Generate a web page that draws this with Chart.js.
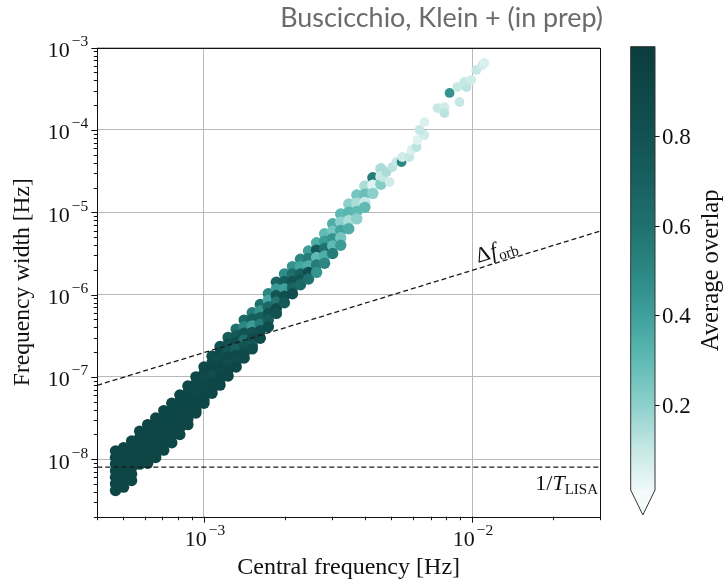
<!DOCTYPE html>
<html>
<head>
<meta charset="utf-8">
<script src="https://cdn.jsdelivr.net/npm/chart.js@4.4.1/dist/chart.umd.min.js"></script>
<style>
  html, body { margin: 0; padding: 0; background: #fff; }
  #wrap { width: 726px; height: 580px; }
</style>
</head>
<body>
<div id="wrap"><canvas id="myChart" width="726" height="580"></canvas></div>
<script>
// axis ranges [Hz]
var xMin = 4e-4, xMax = 3e-2;
var yMin = 2e-9, yMax = 1e-3;

// reference lines
var orbFreq = [4e-4, 3e-2];
var orbWidth = [7.9e-8, 5.9e-6];
var lisaFreq = [4e-4, 3e-2];
var lisaWidth = [8e-9, 8e-9];

// colorbar
var cbMin = 0.01, cbMax = 1.0;
var cbTicks = [0.2, 0.4, 0.6, 0.8];

// sources, grouped in narrow columns of central frequency (log10 Hz)
var logFreq = [-3.33, -3.30, -3.27, -3.24, -3.21, -3.18, -3.15, -3.12, -3.09, -3.06,
               -3.03, -3.00, -2.97, -2.94, -2.91, -2.88, -2.85, -2.82, -2.79, -2.76,
               -2.73, -2.70, -2.67, -2.64, -2.61, -2.58, -2.55, -2.52, -2.49, -2.46,
               -2.43, -2.40, -2.37, -2.34];
// log10 of frequency width [Hz] for each source in the column
var logWidth = [
  [-7.90, -7.98, -8.06, -8.14, -8.22, -8.30, -8.38],
  [-7.86, -7.94, -8.02, -8.10, -8.18, -8.26, -8.34],
  [-7.78, -7.86, -7.94, -8.02, -8.10, -8.18, -8.26],
  [-7.66, -7.74, -7.82, -7.90, -7.98, -8.06],
  [-7.58, -7.66, -7.74, -7.82, -7.90, -7.98, -8.05],
  [-7.50, -7.58, -7.66, -7.74, -7.82, -7.90, -7.98],
  [-7.41, -7.49, -7.57, -7.65, -7.73, -7.81, -7.89],
  [-7.32, -7.40, -7.48, -7.56, -7.64, -7.72, -7.80],
  [-7.22, -7.30, -7.38, -7.46, -7.54, -7.62, -7.70],
  [-7.11, -7.19, -7.27, -7.35, -7.43, -7.51, -7.58],
  [-7.00, -7.08, -7.16, -7.24, -7.32, -7.40, -7.44],
  [-6.88, -6.96, -7.04, -7.12, -7.20, -7.28, -7.32],
  [-6.75, -6.83, -6.91, -6.99, -7.07, -7.15, -7.20],
  [-6.63, -6.71, -6.79, -6.87, -6.95, -7.03, -7.10],
  [-6.52, -6.60, -6.68, -6.76, -6.84, -6.92, -6.99],
  [-6.42, -6.50, -6.58, -6.66, -6.74, -6.82, -6.88],
  [-6.31, -6.39, -6.47, -6.55, -6.63, -6.71, -6.77],
  [-6.22, -6.30, -6.38, -6.46, -6.54, -6.62, -6.66],
  [-6.12, -6.20, -6.28, -6.36, -6.44, -6.53],
  [-5.99, -6.07, -6.15, -6.23, -6.31, -6.39],
  [-5.85, -5.93, -6.01, -6.09, -6.17, -6.23],
  [-5.75, -5.84, -5.93, -6.02, -6.10],
  [-5.66, -5.75, -5.84, -5.92, -5.99],
  [-5.57, -5.66, -5.75, -5.82, -5.88],
  [-5.47, -5.56, -5.65, -5.73, -5.81],
  [-5.37, -5.46, -5.55, -5.64, -5.73],
  [-5.26, -5.35, -5.44, -5.53, -5.62],
  [-5.14, -5.23, -5.32, -5.41, -5.50],
  [-5.02, -5.12, -5.22, -5.31, -5.40],
  [-4.90, -5.00, -5.10, -5.20],
  [-4.79, -4.89, -4.99, -5.08],
  [-4.68, -4.78, -4.88, -4.94],
  [-4.58, -4.67, -4.77],
  [-4.47, -4.57, -4.66]
];
// average overlap of each source
var overlap = [
  [0.91, 0.91, 0.91, 0.91, 0.91, 0.91, 0.91],
  [0.91, 0.91, 0.91, 0.91, 0.91, 0.91, 0.91],
  [0.91, 0.91, 0.91, 0.91, 0.91, 0.91, 0.91],
  [0.91, 0.91, 0.91, 0.91, 0.91, 0.91],
  [0.91, 0.91, 0.91, 0.91, 0.91, 0.91, 0.91],
  [0.91, 0.91, 0.90, 0.91, 0.91, 0.91, 0.91],
  [0.91, 0.90, 0.91, 0.91, 0.91, 0.90, 0.91],
  [0.91, 0.90, 0.91, 0.90, 0.91, 0.91, 0.90],
  [0.90, 0.91, 0.90, 0.91, 0.90, 0.91, 0.91],
  [0.90, 0.89, 0.91, 0.90, 0.91, 0.91, 0.91],
  [0.89, 0.90, 0.90, 0.88, 0.91, 0.90, 0.91],
  [0.88, 0.90, 0.86, 0.90, 0.89, 0.91, 0.90],
  [0.86, 0.88, 0.90, 0.85, 0.90, 0.91, 0.90],
  [0.80, 0.86, 0.84, 0.90, 0.87, 0.91, 0.90],
  [0.72, 0.82, 0.78, 0.88, 0.85, 0.90, 0.91],
  [0.60, 0.75, 0.85, 0.70, 0.88, 0.84, 0.90],
  [0.65, 0.50, 0.80, 0.62, 0.78, 0.86, 0.88],
  [0.55, 0.70, 0.42, 0.80, 0.86, 0.75, 0.85],
  [0.60, 0.45, 0.72, 0.55, 0.82, 0.86],
  [0.50, 0.38, 0.65, 0.80, 0.72, 0.85],
  [0.68, 0.42, 0.78, 0.58, 0.85, 0.80],
  [0.48, 0.72, 0.40, 0.82, 0.75],
  [0.45, 0.62, 0.80, 0.68, 0.85],
  [0.50, 0.38, 0.70, 0.78, 0.65],
  [0.40, 0.55, 0.35, 0.85, 0.60],
  [0.35, 0.75, 0.30, 0.55, 0.45],
  [0.30, 0.42, 0.60, 0.35, 0.50],
  [0.35, 0.25, 0.45, 0.30, 0.55],
  [0.30, 0.20, 0.38, 0.25, 0.42],
  [0.20, 0.32, 0.15, 0.35],
  [0.25, 0.15, 0.30, 0.20],
  [0.15, 0.28, 0.10, 0.30],
  [0.55, 0.05, 0.20],
  [0.15, 0.08, 0.22]
];
// the sparse high frequency tail, one entry per source
var tailFreq = [-2.334, -2.319, -2.308, -2.297, -2.282, -2.263, -2.260, -2.234, -2.226, -2.207,
                -2.204, -2.178, -2.196, -2.178, -2.129, -2.103, -2.103, -2.047, -2.084, -2.055,
                -2.021, -2.029, -2.003, -1.984, -1.962, -1.954];
var tailWidth = [-4.572, -4.511, -4.633, -4.450, -4.389, -4.389, -4.328, -4.328, -4.243, -4.207,
                 -4.122, -4.061, -4.000, -3.904, -3.734, -3.722, -3.795, -3.660, -3.550, -3.478,
                 -3.478, -3.417, -3.393, -3.271, -3.210, -3.186];
var tailOverlap = [0.10, 0.15, 0.08, 0.12, 0.10, 0.50, 0.08, 0.10, 0.06, 0.12,
                   0.05, 0.08, 0.10, 0.06, 0.10, 0.08, 0.12, 0.10, 0.45, 0.10,
                   0.12, 0.10, 0.08, 0.10, 0.08, 0.06];

// white -> teal -> dark teal
var cmapStops = [
  [0.00, [245, 251, 251]], [0.10, [198, 232, 229]], [0.20, [141, 208, 203]],
  [0.30, [95, 186, 180]],  [0.40, [63, 160, 155]],  [0.50, [44, 135, 131]],
  [0.60, [31, 113, 110]],  [0.70, [24, 96, 95]],    [0.80, [18, 82, 82]],
  [0.90, [14, 71, 71]],    [1.00, [11, 60, 61]]
];
function cmap(v) {
  if (v <= cmapStops[0][0]) return 'rgb(' + cmapStops[0][1].join(',') + ')';
  for (var i = 1; i < cmapStops.length; i++) {
    if (v <= cmapStops[i][0]) {
      var a = cmapStops[i - 1], b = cmapStops[i];
      var t = (v - a[0]) / (b[0] - a[0]);
      var c = a[1].map(function(x, k) { return Math.round(x + (b[1][k] - x) * t); });
      return 'rgb(' + c.join(',') + ')';
    }
  }
  return 'rgb(' + cmapStops[cmapStops.length - 1][1].join(',') + ')';
}

var points = [];
var radii = [];
for (var i = 0; i < logFreq.length; i++) {
  for (var j = 0; j < logWidth[i].length; j++) {
    points.push({ x: Math.pow(10, logFreq[i]), y: Math.pow(10, logWidth[i][j]), o: overlap[i][j] });
    radii.push(5.7);
  }
}
for (var k = 0; k < tailFreq.length; k++) {
  points.push({ x: Math.pow(10, tailFreq[k]), y: Math.pow(10, tailWidth[k]), o: tailOverlap[k] });
  radii.push(4.9);
}
var pointColors = points.map(function(p) { return cmap(p.o); });

function logTicks(min, max) {
  var out = [];
  for (var e = Math.floor(Math.log10(min)); e <= Math.ceil(Math.log10(max)); e++) {
    for (var m = 1; m < 10; m++) {
      var v = m * Math.pow(10, e);
      if (v >= min * 0.999 && v <= max * 1.001) out.push({ value: v, major: m === 1 });
    }
  }
  return out;
}

var SERIF = '"Liberation Serif", "DejaVu Serif", serif';

function fitSize(ctx, text, family, target) {
  ctx.font = '20px ' + family;
  return 20 * target / ctx.measureText(text).width;
}

function drawPow(ctx, e, x, y, align) {
  var base = '10', sup = '\u2212' + Math.abs(e);
  ctx.font = '22px ' + SERIF;
  var wb = ctx.measureText(base).width;
  ctx.font = '15.5px ' + SERIF;
  var ws = ctx.measureText(sup).width;
  var w = wb + 2 + ws;
  var x0 = align === 'right' ? x - w : x - w / 2;
  ctx.textAlign = 'left';
  ctx.textBaseline = 'alphabetic';
  ctx.font = '22px ' + SERIF;
  ctx.fillText(base, x0, y);
  ctx.font = '15.5px ' + SERIF;
  ctx.fillText(sup, x0 + wb + 2, y - 11);
}

var decor = {
  id: 'decor',
  afterDraw: function(chart) {
    var ctx = chart.ctx, a = chart.chartArea;
    var xs = chart.scales.x, ys = chart.scales.y;
    ctx.save();
    ctx.fillStyle = '#111';
    ctx.strokeStyle = '#111';
    ctx.lineWidth = 1;

    // frame
    ctx.strokeRect(Math.round(a.left) + 0.5, Math.round(a.top) + 0.5,
                   Math.round(a.right) - Math.round(a.left), Math.round(a.bottom) - Math.round(a.top));

    // tick marks
    ctx.beginPath();
    xs.ticks.forEach(function(t) {
      var px = Math.round(xs.getPixelForValue(t.value)) + 0.5;
      ctx.moveTo(px, a.bottom);
      ctx.lineTo(px, a.bottom + (t.major ? 6 : 3.5));
    });
    ys.ticks.forEach(function(t) {
      var py = Math.round(ys.getPixelForValue(t.value)) + 0.5;
      ctx.moveTo(a.left, py);
      ctx.lineTo(a.left - (t.major ? 6 : 3.5), py);
    });
    ctx.stroke();

    // tick labels
    xs.ticks.forEach(function(t) {
      if (!t.major) return;
      drawPow(ctx, Math.round(Math.log10(t.value)), xs.getPixelForValue(t.value) + 1, a.bottom + 29, 'center');
    });
    ys.ticks.forEach(function(t) {
      if (!t.major) return;
      drawPow(ctx, Math.round(Math.log10(t.value)), a.left - 9, ys.getPixelForValue(t.value) + 9.5, 'right');
    });

    // axis titles
    var xt = 'Central frequency [Hz]';
    ctx.font = fitSize(ctx, xt, SERIF, 223) + 'px ' + SERIF;
    ctx.textAlign = 'center';
    ctx.textBaseline = 'alphabetic';
    ctx.fillText(xt, (a.left + a.right) / 2, 574);

    var yt = 'Frequency width [Hz]';
    ctx.save();
    ctx.font = fitSize(ctx, yt, SERIF, 208) + 'px ' + SERIF;
    ctx.translate(29, (a.top + a.bottom) / 2);
    ctx.rotate(-Math.PI / 2);
    ctx.fillText(yt, 0, 0);
    ctx.restore();

    // line labels
    var p0x = xs.getPixelForValue(orbFreq[0]), p0y = ys.getPixelForValue(orbWidth[0]);
    var p1x = xs.getPixelForValue(orbFreq[1]), p1y = ys.getPixelForValue(orbWidth[1]);
    var ang = Math.atan2(p1y - p0y, p1x - p0x);
    ctx.save();
    ctx.translate(478, 263);
    ctx.rotate(ang);
    ctx.textAlign = 'left';
    ctx.font = '22px ' + SERIF;
    ctx.fillText('\u0394', 0, 0);
    var wd = ctx.measureText('\u0394').width;
    ctx.font = 'italic 22px ' + SERIF;
    ctx.fillText('f', wd + 1, 0);
    var wf = ctx.measureText('f').width;
    ctx.font = '15px ' + SERIF;
    ctx.fillText('orb', wd + wf + 2, 4);
    ctx.restore();

    ctx.textAlign = 'left';
    ctx.font = '15px ' + SERIF;
    var wl = ctx.measureText('LISA').width;
    ctx.font = 'italic 22px ' + SERIF;
    var wt = ctx.measureText('T').width;
    ctx.font = '22px ' + SERIF;
    var w1 = ctx.measureText('1/').width;
    var lx = a.right - 2 - wl - wt - w1;
    ctx.fillText('1/', lx, 490);
    ctx.font = 'italic 22px ' + SERIF;
    ctx.fillText('T', lx + w1, 490);
    ctx.font = '15px ' + SERIF;
    ctx.fillText('LISA', lx + w1 + wt, 494);

    // colorbar
    var cbL = 630.7, cbR = 655, cbT = 46.7, cbB = 490, cbTip = 515;
    var grad = ctx.createLinearGradient(0, cbB, 0, cbT);
    cmapStops.forEach(function(s) {
      var f = (s[0] - cbMin) / (cbMax - cbMin);
      if (f >= 0 && f <= 1) grad.addColorStop(f, 'rgb(' + s[1].join(',') + ')');
    });
    grad.addColorStop(0, cmap(cbMin));
    ctx.fillStyle = grad;
    ctx.fillRect(cbL, cbT, cbR - cbL, cbB - cbT);
    ctx.fillStyle = cmap(0);
    ctx.beginPath();
    ctx.moveTo(cbL, cbB);
    ctx.lineTo((cbL + cbR) / 2, cbTip);
    ctx.lineTo(cbR, cbB);
    ctx.closePath();
    ctx.fill();
    ctx.strokeStyle = '#333';
    ctx.lineWidth = 1;
    ctx.beginPath();
    ctx.moveTo(cbL, cbB);
    ctx.lineTo(cbL, cbT);
    ctx.lineTo(cbR, cbT);
    ctx.lineTo(cbR, cbB);
    ctx.lineTo((cbL + cbR) / 2, cbTip);
    ctx.closePath();
    ctx.stroke();

    ctx.fillStyle = '#111';
    ctx.strokeStyle = '#111';
    ctx.font = '23px ' + SERIF;
    ctx.textAlign = 'left';
    ctx.textBaseline = 'middle';
    cbTicks.forEach(function(v) {
      var py = cbB - (v - cbMin) / (cbMax - cbMin) * (cbB - cbT);
      ctx.beginPath();
      ctx.moveTo(cbR, Math.round(py) + 0.5);
      ctx.lineTo(cbR + 4.5, Math.round(py) + 0.5);
      ctx.stroke();
      ctx.fillText(v.toFixed(1), cbR + 7, py + 2);
    });

    var ct = 'Average overlap';
    ctx.save();
    ctx.font = fitSize(ctx, ct, SERIF, 162) + 'px ' + SERIF;
    ctx.textAlign = 'center';
    ctx.textBaseline = 'alphabetic';
    ctx.translate(718, (cbT + cbB) / 2 + 2);
    ctx.rotate(-Math.PI / 2);
    ctx.fillText(ct, 0, 0);
    ctx.restore();

    // credit line
    var tt = 'Buscicchio, Klein + (in prep)';
    ctx.font = fitSize(ctx, tt, 'Lato, "Open Sans", sans-serif', 323) + 'px Lato, "Open Sans", sans-serif';
    ctx.fillStyle = '#6b6b6b';
    ctx.textAlign = 'right';
    ctx.textBaseline = 'alphabetic';
    ctx.fillText(tt, 603, 27);

    ctx.restore();
  }
};

var gridColor = function(c) { return c.tick && c.tick.major ? '#b8b8b8' : 'rgba(0,0,0,0)'; };

var myChart = new Chart(document.getElementById('myChart'), {
  type: 'scatter',
  data: {
    datasets: [
      {
        label: 'orb',
        data: [{ x: orbFreq[0], y: orbWidth[0] }, { x: orbFreq[1], y: orbWidth[1] }],
        showLine: true,
        borderColor: '#1a1a1a',
        borderWidth: 1.3,
        borderDash: [5, 3],
        pointRadius: 0,
        order: 0
      },
      {
        label: 'lisa',
        data: [{ x: lisaFreq[0], y: lisaWidth[0] }, { x: lisaFreq[1], y: lisaWidth[1] }],
        showLine: true,
        borderColor: '#1a1a1a',
        borderWidth: 1.3,
        borderDash: [5, 3],
        pointRadius: 0,
        order: 0
      },
      {
        label: 'sources',
        data: points,
        pointRadius: radii,
        pointHoverRadius: radii,
        pointBorderWidth: 0,
        pointBackgroundColor: pointColors,
        pointBorderColor: 'rgba(0,0,0,0)',
        order: 1
      }
    ]
  },
  options: {
    responsive: false,
    animation: false,
    events: [],
    layout: { padding: { left: 0, top: 47.7, right: 126, bottom: 0 } },
    plugins: { legend: { display: false }, tooltip: { enabled: false }, title: { display: false } },
    scales: {
      x: {
        type: 'logarithmic',
        min: xMin, max: xMax, bounds: 'data',
        afterFit: function(s) { s.height = 63.3; },
        afterBuildTicks: function(s) { s.ticks = logTicks(xMin, xMax); },
        ticks: { display: false },
        grid: { color: gridColor, lineWidth: 1, drawTicks: false },
        border: { display: false }
      },
      y: {
        type: 'logarithmic',
        min: yMin, max: yMax, bounds: 'data',
        afterFit: function(s) { s.width = 97.3; },
        afterBuildTicks: function(s) { s.ticks = logTicks(yMin, yMax); },
        ticks: { display: false },
        grid: { color: gridColor, lineWidth: 1, drawTicks: false },
        border: { display: false }
      }
    }
  },
  plugins: [decor]
});
</script>
</body>
</html>
